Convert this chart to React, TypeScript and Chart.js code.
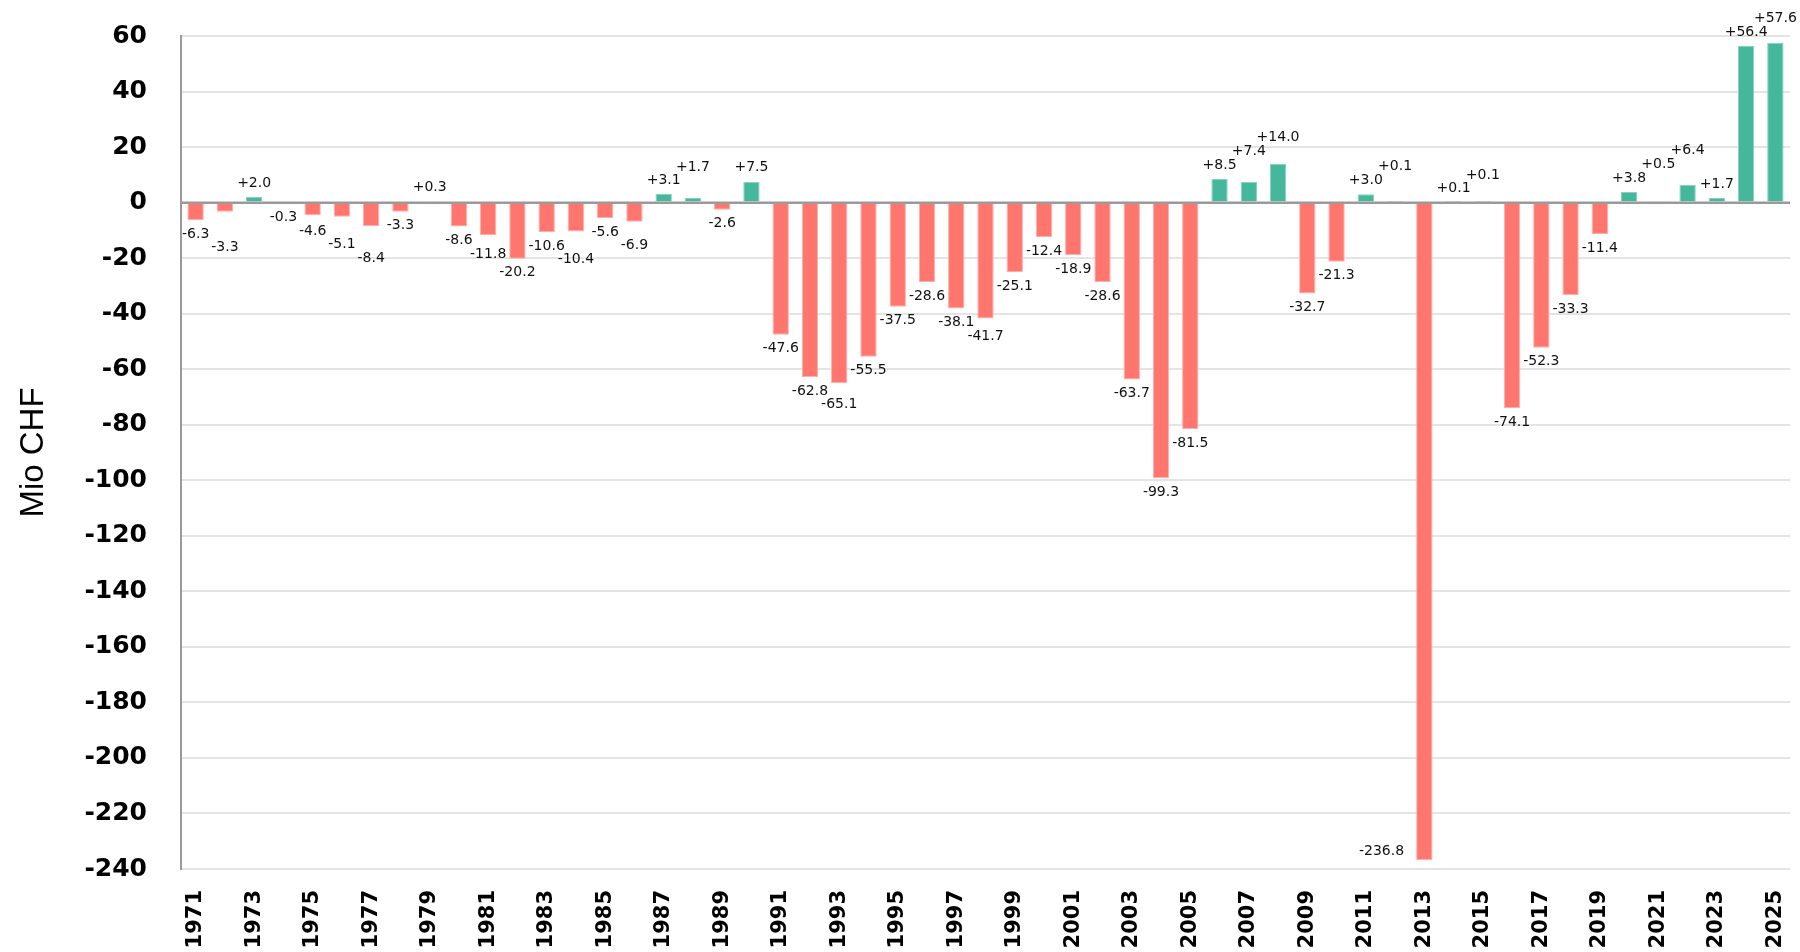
import React, { useEffect, useRef } from "react";
import { Chart, registerables } from "chart.js";

Chart.register(...registerables);

const years: string[] = [
  "1971", "1972", "1973", "1974", "1975", "1976", "1977", "1978", "1979", "1980",
  "1981", "1982", "1983", "1984", "1985", "1986", "1987", "1988", "1989", "1990",
  "1991", "1992", "1993", "1994", "1995", "1996", "1997", "1998", "1999", "2000",
  "2001", "2002", "2003", "2004", "2005", "2006", "2007", "2008", "2009", "2010",
  "2011", "2012", "2013", "2014", "2015", "2016", "2017", "2018", "2019", "2020",
  "2021", "2022", "2023", "2024", "2025",
];

const values: number[] = [
  -6.3, -3.3, 2.0, -0.3, -4.6, -5.1, -8.4, -3.3, 0.3, -8.6,
  -11.8, -20.2, -10.6, -10.4, -5.6, -6.9, 3.1, 1.7, -2.6, 7.5,
  -47.6, -62.8, -65.1, -55.5, -37.5, -28.6, -38.1, -41.7, -25.1, -12.4,
  -18.9, -28.6, -63.7, -99.3, -81.5, 8.5, 7.4, 14.0, -32.7, -21.3,
  3.0, 0.1, -236.8, 0.1, 0.1, -74.1, -52.3, -33.3, -11.4, 3.8,
  0.5, 6.4, 1.7, 56.4, 57.6,
];

const yMin = -240;
const yMax = 60;
const yStep = 20;
const yTitle = "Mio CHF";

const posColor = "#45B89B";
const posBorder = "#86D3BF";
const negColor = "#FF766F";
const negBorder = "#FFB0AB";

const labelPlugin = {
  id: "barLabels",
  afterDatasetsDraw(chart: any) {
    const { ctx, chartArea, scales } = chart;
    const y0 = scales.y.getPixelForValue(0);
    ctx.save();
    ctx.strokeStyle = "#9a9a9a";
    ctx.lineWidth = 2;
    ctx.beginPath();
    ctx.moveTo(chartArea.left, y0);
    ctx.lineTo(chartArea.right, y0);
    ctx.stroke();

    ctx.font = '14px "DejaVu Sans"';
    ctx.fillStyle = "#111";
    ctx.textBaseline = "middle";
    const placed: { x: number; y: number; w: number }[] = [];
    const meta = chart.getDatasetMeta(0);
    const h = 13;
    meta.data.forEach((bar: any, i: number) => {
      const v = values[i];
      const text = (v > 0 ? "+" : "") + v.toFixed(1);
      const w = ctx.measureText(text).width;
      const dir = v >= 0 ? -1 : 1;
      const cx = bar.x;
      let cy = bar.y + dir * 14;
      if (dir > 0 && cy + h / 2 > chartArea.bottom) {
        ctx.textAlign = "right";
        ctx.fillText(text, bar.x - bar.width / 2 - 12, bar.y - 9);
        return;
      }
      const overlaps = (y: number) =>
        placed.some(
          (p) => Math.abs(p.x - cx) < (p.w + w) / 2 + 3 && Math.abs(p.y - y) < h
        );
      let guard = 0;
      while (overlaps(cy) && guard++ < 300) cy += dir;
      placed.push({ x: cx, y: cy, w });
      ctx.textAlign = "center";
      ctx.fillText(text, cx, cy);
    });
    ctx.restore();
  },
};

export default function App() {
  const canvasRef = useRef<HTMLCanvasElement | null>(null);

  useEffect(() => {
    const canvas = canvasRef.current;
    if (!canvas) return;
    const chart = new Chart(canvas, {
      type: "bar",
      data: {
        labels: years,
        datasets: [
          {
            data: values,
            backgroundColor: values.map((v) => (v >= 0 ? posColor : negColor)),
            borderColor: values.map((v) => (v >= 0 ? posBorder : negBorder)),
            borderWidth: 1,
            barPercentage: 0.56,
            categoryPercentage: 1,
          },
        ],
      },
      options: {
        responsive: false,
        animation: false,
        devicePixelRatio: 1,
        layout: { padding: { top: 36, right: 10, bottom: 0, left: 0 } },
        plugins: {
          legend: { display: false },
          tooltip: { enabled: false },
        },
        scales: {
          x: {
            grid: { display: false, drawTicks: false },
            border: { display: false },
            ticks: {
              autoSkip: false,
              minRotation: 90,
              maxRotation: 90,
              padding: 21,
              color: "#000",
              font: { family: "DejaVu Sans", size: 21, weight: "bold" },
              callback: (_v: any, idx: number) => (idx % 2 === 0 ? years[idx] : ""),
            },
            afterFit: (s: any) => {
              s.height = 83;
              s.paddingLeft = 0;
              s.paddingRight = 0;
            },
          },
          y: {
            min: yMin,
            max: yMax,
            ticks: {
              stepSize: yStep,
              padding: 34,
              color: "#000",
              font: { family: "DejaVu Sans", size: 25, weight: "bold" },
            },
            grid: {
              drawTicks: false,
              lineWidth: 2,
              color: (c: any) => (c.tick && c.tick.value === 0 ? "#9a9a9a" : "#e4e4e4"),
            },
            border: { display: true, color: "#9a9a9a", width: 2 },
            title: {
              display: true,
              text: yTitle,
              color: "#000",
              font: { family: "Liberation Sans", size: 33 },
              padding: { top: 14, bottom: 0 },
            },
            afterFit: (s: any) => {
              s.width = 181;
              s.paddingTop = 0;
              s.paddingBottom = 0;
            },
          },
        },
      },
      plugins: [labelPlugin],
    } as any);
    return () => chart.destroy();
  }, []);

  return (
    <div
      style={{
        position: "fixed",
        left: 0,
        top: 0,
        width: 1800,
        height: 952,
        background: "#fff",
      }}
    >
      <canvas ref={canvasRef} width={1800} height={952} style={{ width: 1800, height: 952 }} />
    </div>
  );
}
